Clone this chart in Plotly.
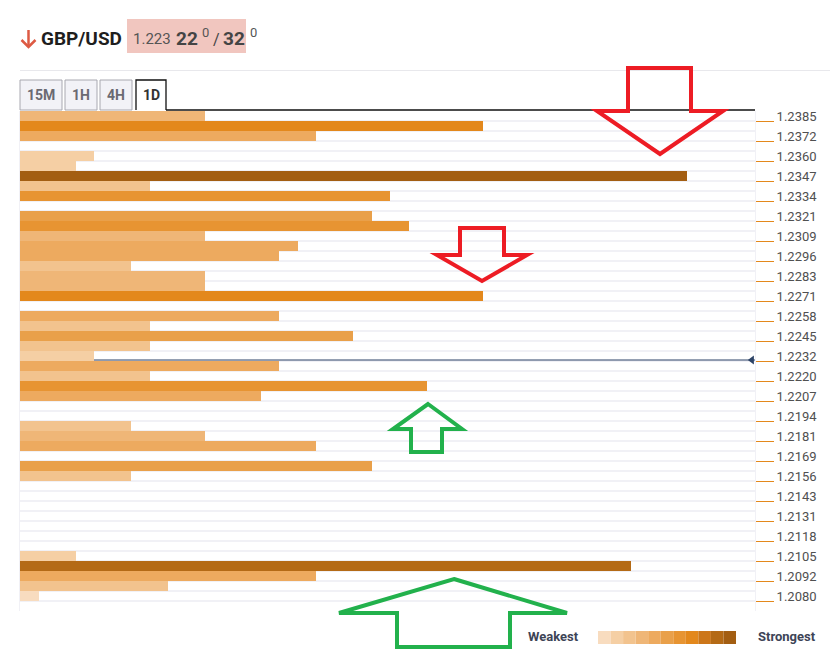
import plotly.graph_objects as go

# ---------------- data ----------------
price_labels = ["1.2385", "1.2372", "1.2360", "1.2347", "1.2334", "1.2321", "1.2309",
                "1.2296", "1.2283", "1.2271", "1.2258", "1.2245", "1.2232", "1.2220",
                "1.2207", "1.2194", "1.2181", "1.2169", "1.2156", "1.2143", "1.2131",
                "1.2118", "1.2105", "1.2092", "1.2080"]

# confluence strength for each of the 50 price rows (top to bottom)
strength = [10, 25, 16, 0, 4, 3, 36, 7, 20, 0,
            19, 21, 10, 15, 14, 6, 10, 10, 25, 0,
            14, 7, 18, 7, 4, 14, 7, 22, 13, 0,
            0, 6, 10, 16, 0, 19, 6, 0, 0, 0,
            0, 0, 0, 0, 3, 33, 16, 8, 1, 0]

current_price_row = 24.4   # 1.22322 position among rows

palette = ["#F8DCBF", "#F5CFA4", "#F2C38E", "#EFB677", "#EDAA5F", "#E9A04A",
           "#E79432", "#E3881C", "#CC7619", "#B46A16", "#A35E12"]
bin_edges = [3, 6, 10, 13, 18, 20, 23, 29, 32, 35]  # lower bounds of palette[1:]

# ---------------- helpers ----------------
W, H = 830, 661
L, R, T, B = 20, 75, 111, 50
PW, PH = W - L - R, H - T - B


def px(x):
    return (x - L) / PW


def py(y):
    return (H - B - y) / PH


def color_for(v):
    idx = 0
    for i, e in enumerate(bin_edges):
        if v >= e:
            idx = i + 1
    return palette[idx]


rows = list(range(len(strength)))
colors = [color_for(v) for v in strength]
xmax = 39.69

fig = go.Figure()
fig.add_trace(go.Bar(
    x=strength, y=rows, orientation="h", width=1.0,
    marker=dict(color=colors, line=dict(width=0)),
    hoverinfo="skip", showlegend=False,
))
# dummy traces for overlay axes
fig.add_trace(go.Scatter(x=[0], y=[0], yaxis="y2", mode="markers",
                         marker=dict(opacity=0), hoverinfo="skip", showlegend=False))
fig.add_trace(go.Scatter(x=[0], y=[0], yaxis="y3", mode="markers",
                         marker=dict(opacity=0), hoverinfo="skip", showlegend=False))
# current price marker
fig.add_trace(go.Scatter(x=[xmax - 0.17], y=[current_price_row], mode="markers",
                         marker=dict(symbol="triangle-left", size=8, color="#2C4366"),
                         cliponaxis=False, hoverinfo="skip", showlegend=False))

yrange = [len(strength) - 0.5, -0.5]
fig.update_layout(
    width=W, height=H,
    margin=dict(l=L, r=R, t=T, b=B),
    paper_bgcolor="white", plot_bgcolor="white",
    bargap=0,
    font=dict(family="Roboto", color="#555555"),
    xaxis=dict(range=[0, xmax], visible=False, fixedrange=True),
    yaxis=dict(range=yrange, tickvals=[r + 0.5 for r in rows], showticklabels=False,
               ticks="", showgrid=True, gridcolor="#F1F1F6", gridwidth=2,
               zeroline=False, showline=True, linecolor="#F1F1F6", linewidth=1, mirror=True),
    yaxis2=dict(range=yrange, overlaying="y", side="right", anchor="x",
                tickvals=rows[::2], ticktext=price_labels, ticks="outside", ticklen=18,
                tickcolor="rgba(0,0,0,0)", showgrid=False, zeroline=False, showline=False,
                tickfont=dict(size=13, color="#505050", family="Roboto")),
    yaxis3=dict(range=yrange, overlaying="y", side="right", anchor="x",
                tickvals=[r + 0.5 for r in rows[::2]], showticklabels=False,
                ticks="outside", ticklen=18, tickwidth=1.3, tickcolor="#E3881C",
                showgrid=False, zeroline=False, showline=False),
)

shapes = []
# current price line
shapes.append(dict(type="line", xref="x", yref="y", x0=0, x1=xmax,
                   y0=current_price_row, y1=current_price_row,
                   line=dict(color="#2C4366", width=1.2), layer="between"))

# header separator
shapes.append(dict(type="line", xref="paper", yref="paper", x0=px(20), x1=px(830),
                   y0=py(70.5), y1=py(70.5), line=dict(color="#E8E8EC", width=1)))
# tabs
tabs = [("15M", 20, 62), ("1H", 65, 97), ("4H", 100, 132)]
for _, x0, x1 in tabs:
    shapes.append(dict(type="rect", xref="paper", yref="paper", x0=px(x0), x1=px(x1),
                       y0=py(110), y1=py(80), fillcolor="#F2F2F7",
                       line=dict(color="#A8A8B0", width=1)))
shapes.append(dict(type="path", xref="paper", yref="paper",
                   path=f"M{px(136)},{py(110)} L{px(136)},{py(80)} L{px(166)},{py(80)} L{px(166)},{py(110)}",
                   line=dict(color="#111111", width=1.3)))
shapes.append(dict(type="line", xref="paper", yref="paper", x0=px(166), x1=px(755),
                   y0=py(110), y1=py(110), line=dict(color="#111111", width=1.3)))

# header price box and arrow
shapes.append(dict(type="rect", xref="paper", yref="paper", x0=px(127), x1=px(246),
                   y0=py(53), y1=py(19), fillcolor="#F1C6BF", line=dict(width=0)))
shapes.append(dict(type="line", xref="paper", yref="paper", x0=px(28.5), x1=px(28.5),
                   y0=py(30), y1=py(47), line=dict(color="#DD5A43", width=2.5)))
shapes.append(dict(type="path", xref="paper", yref="paper",
                   path=f"M{px(21.5)},{py(40)} L{px(28.5)},{py(47)} L{px(35.5)},{py(40)}",
                   line=dict(color="#DD5A43", width=2.5)))


def arrow(points, color):
    p = "M" + " L".join(f"{px(x)},{py(y)}" for x, y in points) + " Z"
    return dict(type="path", xref="paper", yref="paper", path=p,
                line=dict(color=color, width=4), layer="above")


RED, GREEN = "#ED1C24", "#22B14C"
shapes.append(arrow([(628, 68), (691, 68), (691, 111), (723, 111), (660, 154),
                     (597, 111), (628, 111)], RED))
shapes.append(arrow([(460, 228), (504, 228), (504, 255), (527, 255), (482, 281),
                     (437, 255), (460, 255)], RED))
shapes.append(arrow([(428, 404), (462, 429), (442, 429), (442, 452), (411, 452),
                     (411, 429), (393, 429)], GREEN))
shapes.append(arrow([(454, 579), (567, 613), (510, 613), (510, 647), (397, 647),
                     (397, 613), (339, 613)], GREEN))

# legend swatches
sw = (736 - 598) / len(palette)
for i, c in enumerate(palette):
    shapes.append(dict(type="rect", xref="paper", yref="paper",
                       x0=px(598 + i * sw), x1=px(598 + (i + 1) * sw),
                       y0=py(644), y1=py(631), fillcolor=c, line=dict(width=0)))

fig.update_layout(shapes=shapes)

ann = []


def text(x, y, s, size, color, bold=False, anchor="left"):
    ann.append(dict(xref="paper", yref="paper", x=px(x), y=py(y),
                    text=f"<b>{s}</b>" if bold else s, showarrow=False,
                    xanchor=anchor, yanchor="middle",
                    font=dict(size=size, color=color, family="Roboto")))


text(39, 38, "GBP/USD", 19, "#1E1E1E", bold=True)
text(131, 39, "1.223", 15, "#555555")
text(174, 38, "22", 19, "#444444", bold=True)
text(200, 32, "0", 13, "#555555")
text(211, 39, "/", 16, "#444444")
text(221, 38, "32", 19, "#444444", bold=True)
text(248, 32, "0", 13, "#555555")

for (label, x0, x1) in tabs:
    text((x0 + x1) / 2, 95, label, 14, "#6A6A72", bold=True, anchor="center")
text(151, 95, "1D", 14, "#333333", bold=True, anchor="center")

text(526, 636, "Weakest", 13, "#3D4456", bold=True)
text(756, 636, "Strongest", 13, "#3D4456", bold=True)

fig.update_layout(annotations=ann)
fig.write_html("out.html", config={"displayModeBar": False},
               post_script="document.body.style.margin='0px';")
